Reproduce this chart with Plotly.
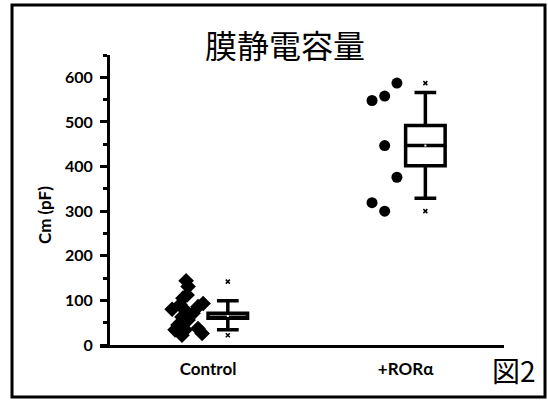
import plotly.graph_objects as go

# ---- data ----
categories = ["Control", "+RORα"]
control_values = [144, 131, 112, 105, 80, 90, 93, 86, 78, 71, 63, 56, 45, 34, 34, 22, 37, 26]
control_jitter = [-0.111, -0.101, -0.106, -0.127, -0.182, -0.142, -0.025, -0.051, -0.116,
                  -0.076, -0.132, -0.101, -0.152, -0.167, -0.116, -0.132, -0.051, -0.030]
ror_values = [548, 558, 587, 447, 376, 319, 300]
ror_jitter = [-0.170, -0.106, -0.044, -0.106, -0.044, -0.170, -0.106]

# box statistics
q1 = [60, 402]
median = [62, 447]
q3 = [71, 492]
lower_whisker = [34, 329]
upper_whisker = [99, 566]
mins = [22, 300]
maxs = [142, 587]
means = [65, 447]

y_ticks = [0, 100, 200, 300, 400, 500, 600]

box_offset = 0.1
cat_pos = [1, 2]

fig = go.Figure()

# scatter points
fig.add_trace(go.Scatter(
    x=[cat_pos[0] + j for j in control_jitter], y=control_values,
    mode="markers", marker=dict(symbol="diamond", size=12, color="black"),
    showlegend=False, hoverinfo="skip"))
fig.add_trace(go.Scatter(
    x=[cat_pos[1] + j for j in ror_jitter], y=ror_values,
    mode="markers", marker=dict(symbol="circle", size=11, color="black"),
    showlegend=False, hoverinfo="skip"))

# boxes
for i in range(2):
    fig.add_trace(go.Box(
        x=[cat_pos[i] + box_offset], q1=[q1[i]], median=[median[i]], q3=[q3[i]],
        lowerfence=[lower_whisker[i]], upperfence=[upper_whisker[i]],
        width=0.2, whiskerwidth=0.55, boxpoints=False,
        fillcolor="white", line=dict(color="black", width=3.5),
        showlegend=False, hoverinfo="skip"))
    # min / max markers
    fig.add_trace(go.Scatter(
        x=[cat_pos[i] + box_offset] * 2, y=[mins[i], maxs[i]],
        mode="markers", marker=dict(symbol="x-thin", size=4, color="black",
                                    line=dict(width=1.5, color="black")),
        showlegend=False, hoverinfo="skip"))
    # mean marker
    fig.add_trace(go.Scatter(
        x=[cat_pos[i] + box_offset], y=[means[i]],
        mode="markers", marker=dict(symbol="square", size=2, color="white"),
        showlegend=False, hoverinfo="skip"))

x_font = dict(family="Lato, Liberation Sans, sans-serif", size=17, color="black")
y_font = dict(family="Lato, Liberation Sans, sans-serif", size=16, color="black")

fig.update_layout(
    width=548, height=401,
    margin=dict(l=100, r=44, t=55, b=56),
    paper_bgcolor="white", plot_bgcolor="white",
    xaxis=dict(
        range=[0.453, 2.498], tickvals=cat_pos, ticktext=[f"<b>{c}</b>" for c in categories],
        showline=True, linecolor="black", linewidth=3, ticks="", showgrid=False,
        zeroline=False, tickfont=x_font, ticklabelstandoff=7),
    yaxis=dict(
        range=[0, 650], tickvals=y_ticks, ticktext=[f"<b>{v}</b>" for v in y_ticks],
        anchor="free", position=0.0198,
        showline=True, linecolor="black", linewidth=3,
        ticks="outside", ticklen=7, tickwidth=2.5, tickcolor="black",
        minor=dict(dtick=50, ticks="outside", ticklen=4, tickwidth=2.5, tickcolor="black"),
        showgrid=False, zeroline=False, tickfont=y_font, ticklabelstandoff=4),
    shapes=[dict(type="rect", xref="paper", yref="paper",
                 x0=-0.2178, x1=1.1015, y0=-0.1793, y1=1.1724,
                 line=dict(color="black", width=3), fillcolor="rgba(0,0,0,0)")],
    annotations=[
        dict(text="膜静電容量", x=0.458, y=1.038, xref="paper", yref="paper",
             showarrow=False, xanchor="center", yanchor="middle",
             font=dict(family="Noto Sans CJK JP", size=32, color="black")),
        dict(text="<b>Cm (pF)</b>", x=-0.1386, y=0.448, xref="paper", yref="paper",
             showarrow=False, textangle=-90, xanchor="center", yanchor="middle",
             font=dict(family="Lato, Liberation Sans, sans-serif", size=17, color="black")),
        dict(text="図2", x=1.084, y=-0.086, xref="paper", yref="paper",
             showarrow=False, xanchor="right", yanchor="middle",
             font=dict(family="Noto Sans CJK JP", size=28, color="black")),
    ],
)

fig.write_html("out.html", config={"displayModeBar": False},
               post_script="document.body.style.margin='0';document.body.style.overflow='hidden';")
